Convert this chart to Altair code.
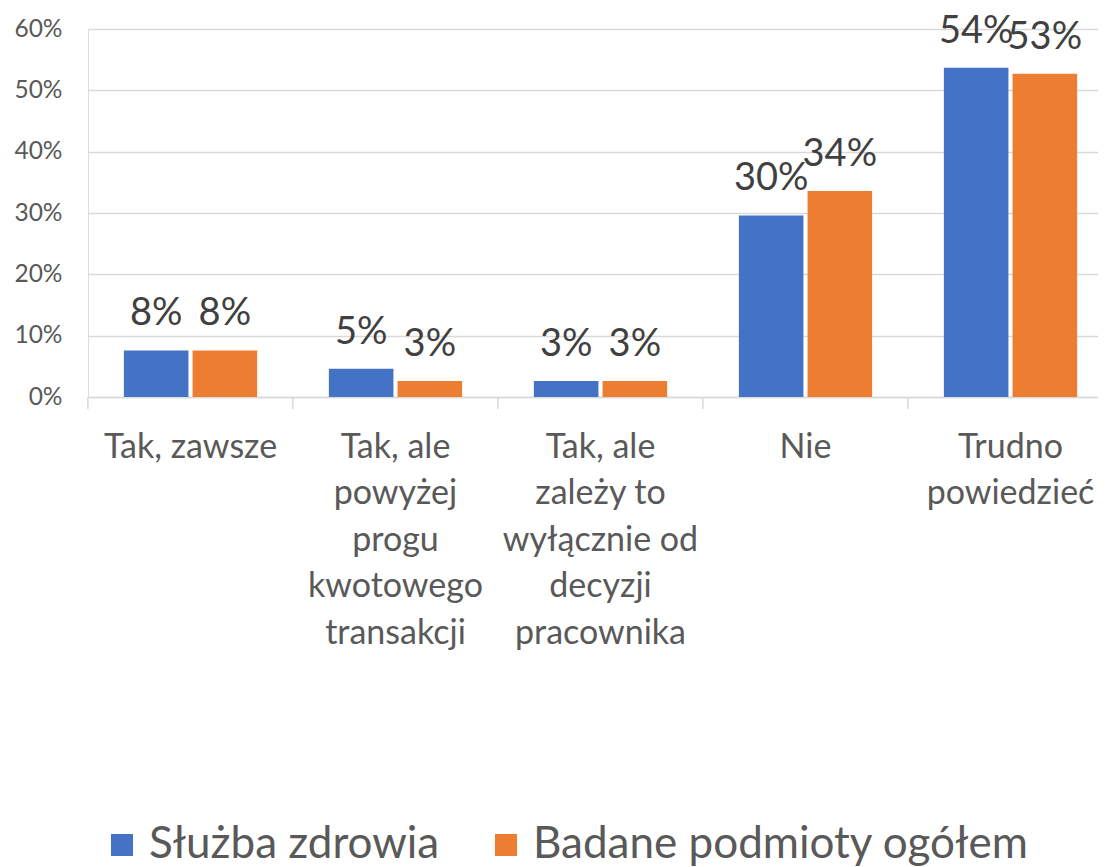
import json
import altair as alt
import pandas as pd

categories = [
    "Tak, zawsze",
    "Tak, ale powyżej progu kwotowego transakcji",
    "Tak, ale zależy to wyłącznie od decyzji pracownika",
    "Nie",
    "Trudno powiedzieć",
]
category_lines = [
    ["Tak, zawsze"],
    ["Tak, ale", "powyżej", "progu", "kwotowego", "transakcji"],
    ["Tak, ale", "zależy to", "wyłącznie od", "decyzji", "pracownika"],
    ["Nie"],
    ["Trudno", "powiedzieć"],
]
series = ["Służba zdrowia", "Badane podmioty ogółem"]
colors = ["#4472C4", "#ED7D31"]
sluzba_zdrowia = [0.076, 0.046, 0.026, 0.296, 0.537]
ogolem = [0.076, 0.026, 0.026, 0.336, 0.527]
y_ticks = [0, 0.1, 0.2, 0.3, 0.4, 0.5, 0.6]

rows = []
for i, c in enumerate(categories):
    rows.append({"cat": c, "series": series[0], "value": sluzba_zdrowia[i]})
    rows.append({"cat": c, "series": series[1], "value": ogolem[i]})
df = pd.DataFrame(rows)
cat_df = pd.DataFrame({"cat": categories})

# multi-line axis labels
expr = "datum.label"
for c, lines in reversed(list(zip(categories, category_lines))):
    expr = f"datum.label == {json.dumps(c, ensure_ascii=False)} ? {json.dumps(lines, ensure_ascii=False)} : ({expr})"

FONT = "Lato"
PLOT_W = 1010
PLOT_H = 368

x_scale = alt.Scale(domain=categories, range=[0, 1025], paddingInner=0.35, paddingOuter=0.175)

x_enc = alt.X(
    "cat:N",
    scale=x_scale,
    sort=categories,
    axis=alt.Axis(
        title=None,
        labelAngle=0,
        labelExpr=expr,
        labelFont=FONT,
        labelFontSize=34,
        labelColor="#595959",
        labelLineHeight=46.5,
        labelBaseline="top",
        labelPadding=33,
        labelLimit=400,
        ticks=False,
        domainColor="#d9d9d9",
        domainWidth=1.5,
        grid=False,
    ),
)

y_enc = alt.Y(
    "value:Q",
    scale=alt.Scale(domain=[0, 0.6], nice=False),
    axis=alt.Axis(
        title=None,
        values=y_ticks,
        format=".0%",
        labelFont=FONT,
        labelFontSize=24.5,
        labelColor="#595959",
        labelPadding=26,
        ticks=False,
        domain=False,
        gridColor="#d9d9d9",
        gridWidth=1.5,
    ),
)

color_enc = alt.Color(
    "series:N",
    scale=alt.Scale(domain=series, range=colors),
    sort=series,
    legend=alt.Legend(
        title=None,
        orient="none",
        legendX=12,
        legendY=794,
        direction="horizontal",
        symbolType="square",
        symbolSize=484,
        symbolStrokeWidth=0,
        labelFont=FONT,
        labelFontSize=44,
        labelColor="#595959",
        labelOffset=5,
        columnPadding=44,
        labelLimit=800,
    ),
)

xoff = alt.XOffset("series:N", scale=alt.Scale(domain=series, paddingInner=0.06), sort=series)

bars = alt.Chart(df).mark_bar().encode(
    x=x_enc, y=y_enc, color=color_enc, xOffset=xoff
)

labels = alt.Chart(df).mark_text(
    font=FONT, fontSize=38, color="#404040", baseline="alphabetic", dy=-25
).encode(
    x=alt.X("cat:N", sort=categories),
    xOffset=alt.XOffset("series:N", sort=series),
    y=alt.Y("value:Q"),
    text=alt.Text("value:Q", format=".0%"),
)

ticks = alt.Chart(cat_df).mark_rule(color="#d9d9d9", strokeWidth=1.5, xOffset=-36).encode(
    x=alt.X("cat:N", sort=categories, bandPosition=0),
    y=alt.value(PLOT_H),
    y2=alt.value(PLOT_H + 12),
)

chart = (
    alt.layer(bars, ticks, labels)
    .properties(
        width=PLOT_W,
        height=PLOT_H,
        autosize=alt.AutoSizeParams(type="none"),
        padding={"left": 80, "top": 21, "right": 0, "bottom": 470},
    )
    .configure_view(stroke=None)
    .configure(background="white")
)

chart.save("out.html", embed_options={"renderer": "svg", "actions": False})
